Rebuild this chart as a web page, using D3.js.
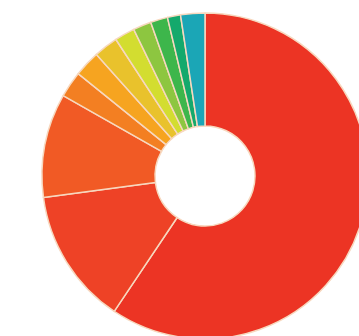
<!DOCTYPE html>
<html lang="en">
	<head>
		<meta charset="utf-8">
		<title>Donut chart</title>
		<script src="https://cdn.jsdelivr.net/npm/d3@7"></script>
		<style type="text/css">
			body { margin: 0; background: #fff; }
		</style>
	</head>
	<body>
		<script type="text/javascript">
			//Width and height
			var w = 359;
			var h = 336;

			// slice shares (percent), read clockwise from 12 o'clock
			var categories = ["A", "B", "C", "D", "E", "F", "G", "H", "I", "J", "K"];
			var values = [59.4, 13.5, 10.3, 2.6, 2.6, 2.4, 2.0, 1.8, 1.7, 1.3, 2.4];
			var colors = ["#ec3424", "#ee4226", "#f15a25", "#f37f22", "#f6a420", "#e9c22c",
						  "#d3dd30", "#8dc640", "#3db64b", "#14a96c", "#1ba6b6"];

			var cx = 205, cy = 176;
			var outerR = 163, innerR = 50;

			var svg = d3.select("body")
						.append("svg")
						.attr("width", w)
						.attr("height", h);

			var pie = d3.pie()
						.sort(null)
						.value(function(d) { return d; });

			var arc = d3.arc()
						.innerRadius(innerR)
						.outerRadius(outerR);

			var color = d3.scaleOrdinal()
						  .domain(categories)
						  .range(colors);

			svg.append("g")
			   .attr("transform", "translate(" + cx + "," + cy + ")")
			   .selectAll("path")
			   .data(pie(values))
			   .enter()
			   .append("path")
			   .attr("d", arc)
			   .attr("fill", function(d, i) {
					return color(categories[i]);
			   })
			   .attr("stroke", "#f7d8bf")
			   .attr("stroke-width", 1.5)
			   .attr("stroke-linejoin", "round");
		</script>
	</body>
</html>
